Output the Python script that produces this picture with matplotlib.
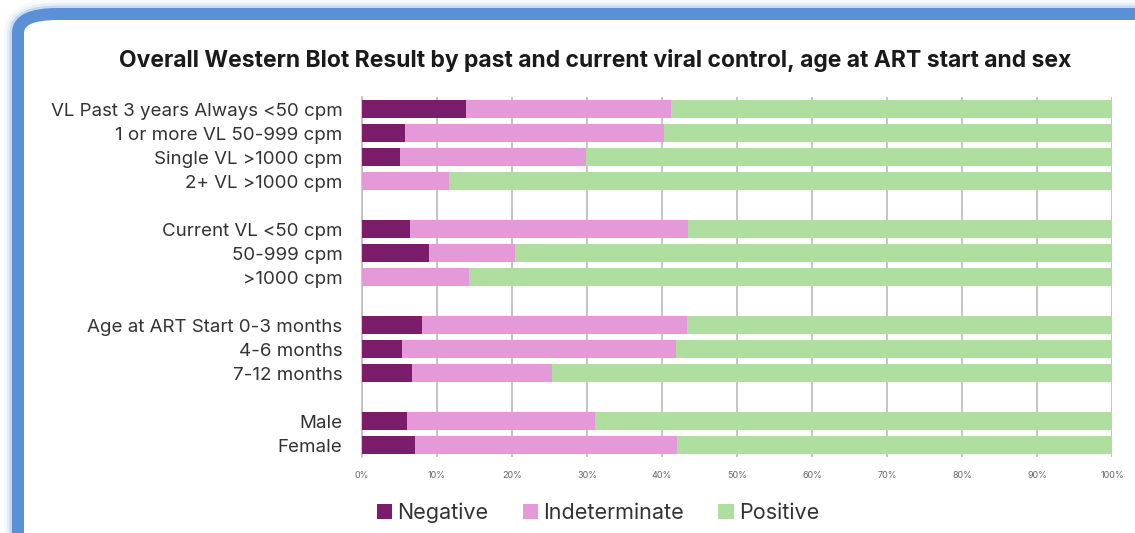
import matplotlib.pyplot as plt
import numpy as np
from matplotlib.patches import FancyBboxPatch

# Share of each Western Blot outcome (%) per subgroup
categories = [
    "VL Past 3 years Always <50 cpm",
    "1 or more VL 50-999 cpm",
    "Single VL >1000 cpm",
    "2+ VL >1000 cpm",
    "Current VL <50 cpm",
    "50-999 cpm",
    ">1000 cpm",
    "Age at ART Start 0-3 months",
    "4-6 months",
    "7-12 months",
    "Male",
    "Female",
]
group_sizes = [4, 3, 3, 2]

negative = [13.8, 5.7, 5.0, 0.0, 6.4, 8.9, 0.0, 8.0, 5.3, 6.7, 6.0, 7.0]
indeterminate = [27.4, 34.5, 24.9, 11.6, 37.0, 11.5, 14.2, 35.3, 36.6, 18.6, 25.0, 35.0]
positive = [58.8, 59.8, 70.1, 88.4, 56.6, 79.6, 85.8, 56.7, 58.1, 74.7, 69.0, 58.0]

series_names = ["Negative", "Indeterminate", "Positive"]
colors = ["#7b1c6d", "#e49ad9", "#aedf9f"]
text_color = "#333333"

plt.rcParams["font.family"] = ["Inter", "DejaVu Sans"]

fig = plt.figure(figsize=(11.35, 5.33), dpi=100)
W, H = 1135, 533

# slide frame: soft blue rounded border running off the right/bottom edge
for lw, alpha in [(28, 0.05), (22, 0.1), (17, 0.22)]:
    fig.patches.append(FancyBboxPatch(
        (18 / W, -60 / H), 1200 / W, (60 + H - 14) / H,
        boxstyle="round,pad=0,rounding_size=0.035",
        transform=fig.transFigure, fill=False,
        edgecolor="#5b8fd6", linewidth=lw * 0.72, alpha=alpha, zorder=0))
fig.patches.append(FancyBboxPatch(
    (18 / W, -60 / H), 1200 / W, (60 + H - 14) / H,
    boxstyle="round,pad=0,rounding_size=0.035",
    transform=fig.transFigure, facecolor="white",
    edgecolor="#5b8fd6", linewidth=12 * 0.72, zorder=1))

ax = fig.add_axes([362 / W, 1 - 457 / H, 750 / W, 360 / H])
ax.set_zorder(2)

# row positions: groups separated by one empty row
ypos = []
row = 0
for size in group_sizes:
    for _ in range(size):
        ypos.append(row)
        row += 1
    row += 1
n_rows = row - 1
ypos = np.array(ypos)

left = np.zeros(len(categories))
for vals, name, col in zip([negative, indeterminate, positive], series_names, colors):
    vals = np.array(vals)
    ax.barh(ypos, vals, left=left, height=0.76, color=col, label=name,
            edgecolor="none", zorder=3)
    left += vals

ax.set_xlim(0, 100)
ax.set_ylim(n_rows - 0.5, -0.5)
ax.set_xticks(np.arange(0, 101, 10))
ax.set_xticklabels([f"{v}%" for v in range(0, 101, 10)], fontsize=6.5, color="#666666")
ax.set_yticks(ypos)
ax.set_yticklabels(categories, fontsize=13.5, color=text_color)
ax.tick_params(axis="y", length=0, pad=14)
ax.tick_params(axis="x", length=0, pad=10)
ax.grid(axis="x", color="#c4c4c4", linewidth=1.4, zorder=1)
ax.set_axisbelow(True)
for side in ["top", "right", "bottom"]:
    ax.spines[side].set_visible(False)
ax.spines["left"].set_color("#bdbdbd")
ax.spines["left"].set_linewidth(1.2)

fig.text(595 / W, 1 - 61 / H,
         "Overall Western Blot Result by past and current viral control, age at ART start and sex",
         ha="center", va="center", fontsize=16.5, fontweight="bold", color="#1a1a1a")

fig.legend(loc="center", bbox_to_anchor=(598 / W, 1 - 513 / H), ncol=3, frameon=False,
           fontsize=15.5, handlelength=0.7, handleheight=0.7, handletextpad=0.25,
           columnspacing=1.6, labelcolor=text_color)

fig.savefig("out.png", dpi=100)
